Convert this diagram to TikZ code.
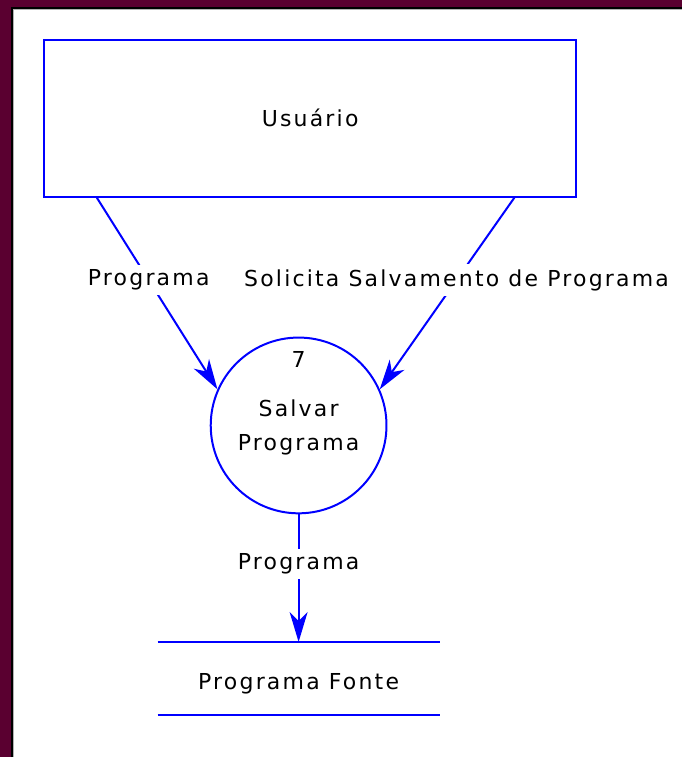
\documentclass[tikz,border=0pt]{standalone}
\usepackage{fontspec}
\setmainfont{DejaVu Sans}[LetterSpace=10]
\usetikzlibrary{arrows.meta}
\definecolor{moldura}{RGB}{90,0,48}
\definecolor{fluxo}{RGB}{0,0,255}
\tikzset{
	entidade/.style={draw=fluxo, line width=2pt, minimum width=533pt, minimum height=157pt},
	processo/.style={draw=fluxo, line width=2pt, circle, minimum size=176pt},
	deposito/.style={minimum width=282pt, minimum height=73pt, text height=25pt, text depth=4pt},
	rotulo/.style={fill=white, inner xsep=2pt, inner ysep=5pt},
	dado/.style={draw=fluxo, line width=2pt, -{Stealth[length=30pt, width=18pt, inset=9pt]}}
}
\begin{document}
\begin{tikzpicture}[x=1pt, y=-1pt, font=\fontsize{22}{35}\selectfont]
		\fill[moldura] (0,0) rectangle (683,758);
		\fill[white] (11,7) rectangle (683,758);
		\draw[black, line width=2pt] (12,758) -- (12,8) -- (683,8);
		\draw[gray!60, line width=1pt] (13.5,758) -- (13.5,9.5) -- (683,9.5);
		\useasboundingbox (0,0) rectangle (683,758);

		\node[entidade] (usuario) at (310.5,118.5) {Usuário};
		\node[processo] (salvar) at (299,426) {};
		\node (num) at (299,360) {7};
		\node[align=center] (nome) at (299,428) {Salvar\\Programa};

		\node[deposito] (fonte) at (299,679.5) {Programa Fonte};
		\draw[fluxo, line width=2pt] (fonte.north west) -- (fonte.north east);
		\draw[fluxo, line width=2pt] (fonte.south west) -- (fonte.south east);

		\draw[dado] (usuario.south -| 97,0) -- node[rotulo, pos=0.43] (r1) {Programa} (salvar.156);
		\draw[dado] (usuario.south -| 515,0) -- node[rotulo, pos=0.43] (r2) {Solicita Salvamento de Programa} (salvar.24);
		\draw[dado] (salvar.south) -- node[rotulo, pos=0.39] (r3) {Programa} (fonte.north);
\end{tikzpicture}
\end{document}
